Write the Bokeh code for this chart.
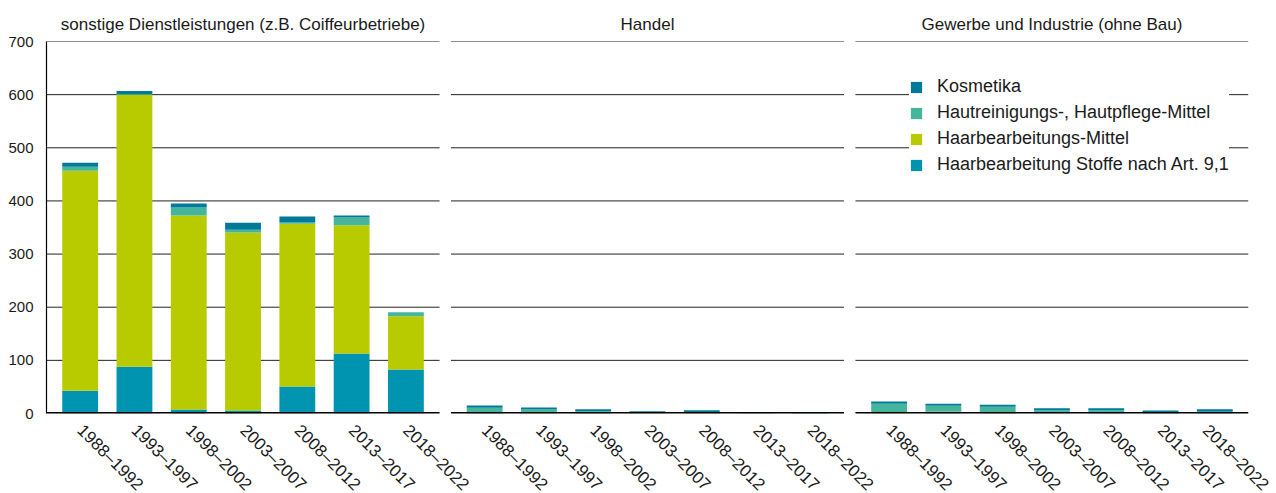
import math
from bokeh.plotting import figure
from bokeh.models import (ColumnDataSource, FactorRange, Range1d, Legend, LegendItem,
                          SingleIntervalTicker, CategoricalAxis)
from bokeh.embed import file_html
from bokeh.resources import INLINE

categories = ["1988–1992", "1993–1997", "1998–2002", "2003–2007", "2008–2012", "2013–2017", "2018–2022"]
series_names = ["Haarbearbeitung Stoffe nach Art. 9,1", "Haarbearbeitungs-Mittel",
                "Hautreinigungs-, Hautpflege-Mittel", "Kosmetika"]
colors = ["#0094b0", "#b8ca00", "#45b69c", "#007a99"]

panel_titles = ["sonstige Dienstleistungen (z.B. Coiffeurbetriebe)", "Handel",
                "Gewerbe und Industrie (ohne Bau)"]
y_ticks = [0, 100, 200, 300, 400, 500, 600, 700]

# sonstige Dienstleistungen
dl_stoffe = [43, 88, 7.5, 5.5, 51, 113, 83]
dl_haar = [414, 512, 365, 335, 306, 241, 100]
dl_haut = [7.5, 1, 15, 5.5, 2.5, 15, 7.5]
dl_kosm = [7.5, 6, 7.5, 13, 11, 3.5, 0]

# Handel
ha_stoffe = [1, 0, 1, 0, 0, 0, 0]
ha_haar = [0, 0, 0, 1, 1, 0, 0]
ha_haut = [10, 7.5, 3, 0, 1.5, 1.5, 0]
ha_kosm = [4, 3.8, 3.8, 3, 3.5, 1, 2]

# Gewerbe und Industrie
gi_stoffe = [0, 2, 1.5, 0.5, 1, 1.5, 4]
gi_haar = [2.5, 1.2, 0, 0, 0, 0, 0]
gi_haut = [16, 11.3, 11.3, 5.6, 5, 0.5, 0]
gi_kosm = [4, 3.8, 3.8, 3.8, 3.8, 3.8, 3.8]

FONT = "Liberation Sans"
FS = "17px"
TXT = "#1a1a1a"
keys = ["stoffe", "haar", "haut", "kosm"]

factors = [(t, c) for t in panel_titles for c in categories]
src = ColumnDataSource(dict(
    x=factors,
    stoffe=dl_stoffe + ha_stoffe + gi_stoffe,
    haar=dl_haar + ha_haar + gi_haar,
    haut=dl_haut + ha_haut + gi_haut,
    kosm=dl_kosm + ha_kosm + gi_kosm,
))

x_range = FactorRange(*factors, group_padding=0.45, range_padding=0.01096)
p = figure(x_range=x_range, y_range=Range1d(0, 700),
           frame_width=1202, frame_height=372,
           output_backend="svg", toolbar_location=None,
           min_border_left=46, min_border_right=24,
           min_border_top=41, min_border_bottom=70)
# a second range, aligned on the panel centres, for the panel titles
p.extra_x_ranges = {"titles": FactorRange(*panel_titles, factor_padding=1, range_padding=0.1888)}
p.outline_line_color = None
p.background_fill_color = "white"
p.border_fill_color = "white"
p.xgrid.grid_line_color = None
p.ygrid.grid_line_color = None

# horizontal grid lines, one set per panel
gx0, gx1, gy = [], [], []
for t in panel_titles:
    for v in y_ticks[1:]:
        gx0.append((t, categories[0], -0.62))
        gx1.append((t, categories[-1], 0.62))
        gy.append(v)
p.segment(x0=gx0, x1=gx1, y0=gy, y1=gy, line_color="#222222", line_width=1)

rs = p.vbar_stack(keys, x="x", width=0.66, source=src, color=colors, line_color=None)

# baseline per panel
bx0 = [(t, categories[0], -0.62) for t in panel_titles]
bx1 = [(t, categories[-1], 0.62) for t in panel_titles]
p.segment(x0=bx0, x1=bx1, y0=[0] * 3, y1=[0] * 3, line_color="black", line_width=3)

# x axis (bottom)
ax = p.xaxis[0]
ax.axis_line_color = None
ax.major_tick_line_color = None
ax.minor_tick_line_color = None
ax.major_label_orientation = -math.pi / 4
ax.major_label_text_font = FONT
ax.major_label_text_font_size = FS
ax.major_label_text_color = TXT
ax.major_label_standoff = 8
ax.group_text_font_size = "1px"
ax.group_text_alpha = 0
ax.group_text_color = None
ax.separator_line_color = None

# y axis
ya = p.yaxis[0]
ya.ticker = SingleIntervalTicker(interval=100)
ya.axis_line_color = "black"
ya.axis_line_width = 1.2
ya.major_tick_line_color = None
ya.minor_tick_line_color = None
ya.major_label_text_font = FONT
ya.major_label_text_font_size = "15px"
ya.major_label_text_color = TXT
ya.major_label_standoff = 7

# panel titles on a top axis
top = CategoricalAxis(x_range_name="titles")
top.axis_line_color = None
top.major_tick_line_color = None
top.minor_tick_line_color = None
top.major_tick_out = 0
top.major_label_standoff = 8
top.major_label_text_font = FONT
top.major_label_text_font_size = FS
top.major_label_text_color = TXT
p.add_layout(top, "above")

items = [LegendItem(label=series_names[j], renderers=[rs[j]]) for j in reversed(range(4))]
leg = Legend(items=items, location=(863, 238))
leg.border_line_color = None
leg.background_fill_color = "white"
leg.background_fill_alpha = 1
leg.padding = 12
leg.margin = 0
leg.glyph_width = 14
leg.glyph_height = 14
leg.label_standoff = 14
leg.spacing = 5
leg.label_text_font = FONT
leg.label_text_font_size = "18px"
leg.label_text_color = TXT
p.add_layout(leg)

open("out.html", "w").write(file_html(p, INLINE))
